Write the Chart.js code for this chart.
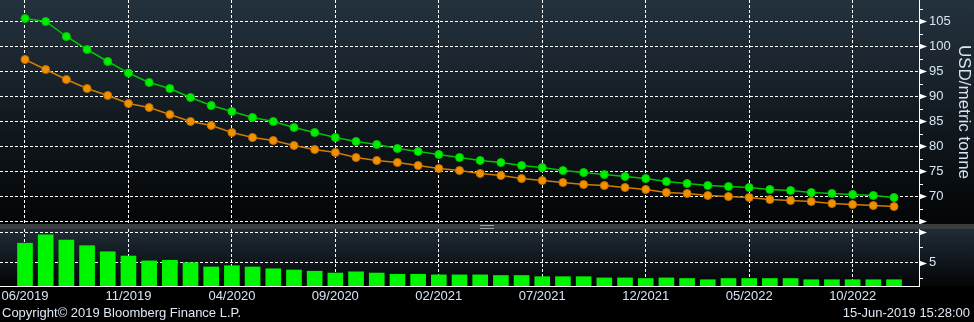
<!DOCTYPE html>
<html>
<head>
<meta charset="utf-8">
<script src="https://cdn.jsdelivr.net/npm/chart.js@4.4.0/dist/chart.umd.min.js"></script>
<style>
body { margin:0; background:#000; width:974px; height:322px; overflow:hidden; position:relative; font-family:"Liberation Sans", Arial, sans-serif; }
#top { position:absolute; left:0; top:0; }
#sep { position:absolute; left:0; top:224px; width:974px; height:5px; background:#3b3d3f; }
#grip { position:absolute; left:480px; top:225px; width:14px; height:4px; border-top:1px solid #a0a0a0; border-bottom:1px solid #a0a0a0; box-sizing:border-box; }
#bot { position:absolute; left:0; top:229px; }
.foot { position:absolute; top:305px; font-size:13px; color:#dde8f4; white-space:nowrap; }
</style>
</head>
<body>
<canvas id="top" width="974" height="224"></canvas>
<div id="sep"></div><div id="grip"></div>
<canvas id="bot" width="974" height="93"></canvas>
<div class="foot" style="left:2px">Copyright© 2019 Bloomberg Finance L.P.</div>
<div class="foot" style="right:4px">15-Jun-2019 15:28:00</div>
<script>
// monthly contracts, 06/2019 .. 12/2022
const months = ['06/2019','07/2019','08/2019','09/2019','10/2019','11/2019','12/2019',
  '01/2020','02/2020','03/2020','04/2020','05/2020','06/2020','07/2020','08/2020','09/2020','10/2020','11/2020','12/2020',
  '01/2021','02/2021','03/2021','04/2021','05/2021','06/2021','07/2021','08/2021','09/2021','10/2021','11/2021','12/2021',
  '01/2022','02/2022','03/2022','04/2022','05/2022','06/2022','07/2022','08/2022','09/2022','10/2022','11/2022','12/2022'];

// green curve
const curveNow = [105.5, 104.9, 101.9, 99.3, 96.9, 94.6, 92.7, 91.5, 89.7, 88.1, 86.9, 85.7, 84.9, 83.7, 82.7,
  81.7, 80.9, 80.3, 79.5, 78.9, 78.3, 77.7, 77.1, 76.7, 76.1, 75.7, 75.1, 74.7, 74.3, 73.9,
  73.5, 72.9, 72.5, 72.1, 71.9, 71.7, 71.3, 71.1, 70.7, 70.5, 70.3, 70.1, 69.7];

// orange curve
const curvePrev = [97.3, 95.3, 93.3, 91.5, 90.1, 88.5, 87.7, 86.3, 84.9, 84.1, 82.7, 81.7, 81.1, 80.1, 79.3,
  78.7, 77.7, 77.1, 76.7, 76.1, 75.5, 75.1, 74.5, 74.1, 73.5, 73.1, 72.7, 72.3, 72.1, 71.7,
  71.3, 70.7, 70.5, 70.1, 69.9, 69.7, 69.3, 69.1, 68.9, 68.5, 68.3, 68.1, 67.9];

// difference bars, lower panel
const spread = [8.2, 9.6, 8.7, 7.8, 6.8, 6.1, 5.3, 5.4, 5.0, 4.3, 4.5, 4.3, 4.0, 3.8, 3.6,
  3.3, 3.5, 3.3, 3.1, 3.1, 3.0, 3.0, 3.0, 2.9, 2.9, 2.7, 2.7, 2.7, 2.5, 2.5,
  2.4, 2.5, 2.4, 2.2, 2.4, 2.4, 2.4, 2.4, 2.2, 2.2, 2.2, 2.2, 2.2];

const xTickIdx = [0, 5, 10, 15, 20, 25, 30, 35, 40];
const priceTicks = [65, 70, 75, 80, 85, 90, 95, 100, 105];
const spreadTicks = [5, 10];
// edge ticks get the arrow but no number
const hiddenLabels = [65, 10];

const txt = '#d6e4f3';
const axisFont = { family: 'Liberation Sans', size: 13 };
const dash = [3, 2];
const xMin = -1.208, xMax = 43.208;

function pts(arr) { return arr.map((v, i) => ({ x: i, y: v })); }
function yLabel(v) { return hiddenLabels.includes(v) ? '' : v; }

// fixed sizes, no label padding eating into the plot
function fixSize(w, h) {
  return s => {
    if (w !== null) s.width = w;
    if (h !== null) s.height = h;
    s.paddingTop = 0; s.paddingBottom = 0; s.paddingLeft = 0; s.paddingRight = 0;
  };
}

// gradient panel + the little arrow/minor ticks on the right axis
const panelBg = {
  id: 'panelBg',
  beforeDraw(chart, args, opts) {
    const { ctx, chartArea } = chart;
    const g = ctx.createLinearGradient(0, chartArea.top, 0, chartArea.bottom);
    g.addColorStop(0, opts.top);
    g.addColorStop(1, opts.bottom);
    ctx.save();
    ctx.fillStyle = '#000';
    ctx.fillRect(0, 0, chart.width, chart.height);
    ctx.fillStyle = g;
    ctx.fillRect(0, chartArea.top, chart.width, chartArea.bottom - chartArea.top);
    ctx.restore();
  },
  afterDraw(chart, args, opts) {
    const y = chart.scales.y;
    const { ctx, chartArea } = chart;
    const x0 = chartArea.right;
    ctx.save();
    ctx.fillStyle = '#fff';
    ctx.strokeStyle = '#fff';
    ctx.lineWidth = 1;
    opts.ticks.forEach(v => {
      const py = Math.round(y.getPixelForValue(v)) + 0.5;
      ctx.beginPath();
      ctx.moveTo(x0, py - 3);
      ctx.lineTo(x0 + 8, py);
      ctx.lineTo(x0, py + 3);
      ctx.closePath();
      ctx.fill();
      [v - 2.5, v + 2.5].forEach(m => {
        const pm = Math.round(y.getPixelForValue(m)) + 0.5;
        if (pm < chartArea.top || pm > chartArea.bottom) return;
        ctx.beginPath();
        ctx.moveTo(x0, pm);
        ctx.lineTo(x0 + 4, pm);
        ctx.stroke();
      });
    });
    ctx.restore();
  }
};

const base = {
  responsive: false,
  animation: false,
  events: [],
  layout: { padding: 0, autoPadding: false }
};

new Chart(document.getElementById('top'), {
  type: 'line',
  data: {
    datasets: [{
      data: pts(curvePrev),
      borderColor: '#d27c00',
      borderWidth: 1.5,
      backgroundColor: '#f29100',
      pointBorderColor: '#c07000',
      pointBorderWidth: 1,
      pointRadius: 4
    }, {
      data: pts(curveNow),
      borderColor: '#00c400',
      borderWidth: 1.5,
      backgroundColor: '#00ee00',
      pointBorderColor: '#00c800',
      pointBorderWidth: 1,
      pointRadius: 4
    }]
  },
  options: Object.assign({}, base, {
    plugins: {
      legend: { display: false },
      tooltip: { enabled: false },
      panelBg: { top: '#24323e', bottom: '#030506', ticks: priceTicks }
    },
    scales: {
      x: {
        type: 'linear', min: xMin, max: xMax, offset: false,
        afterBuildTicks: s => { s.ticks = xTickIdx.map(v => ({ value: v })); },
        afterFit: fixSize(null, 0),
        ticks: { display: false },
        grid: { color: '#fff', lineWidth: 1, drawTicks: false, offset: false },
        border: { display: false, dash: dash }
      },
      y: {
        position: 'right', min: 64.4, max: 109.2,
        afterBuildTicks: s => { s.ticks = priceTicks.map(v => ({ value: v })); },
        afterFit: fixSize(55, null),
        ticks: { color: txt, font: axisFont, padding: 10, callback: yLabel },
        grid: { color: '#fff', lineWidth: 1, drawTicks: false },
        border: { display: true, color: '#fff', width: 1, dash: dash },
        title: { display: true, text: 'USD/metric tonne', color: txt, font: { family: 'Liberation Sans', size: 17 }, padding: 0 }
      }
    }
  }),
  plugins: [panelBg]
});

new Chart(document.getElementById('bot'), {
  type: 'bar',
  data: {
    datasets: [{
      data: pts(spread),
      backgroundColor: '#00f500',
      borderWidth: 0,
      barThickness: 15
    }]
  },
  options: Object.assign({}, base, {
    plugins: {
      legend: { display: false },
      tooltip: { enabled: false },
      panelBg: { top: '#202c37', bottom: '#030506', ticks: spreadTicks }
    },
    scales: {
      x: {
        type: 'linear', min: xMin, max: xMax, offset: false,
        afterBuildTicks: s => { s.ticks = xTickIdx.map(v => ({ value: v })); },
        afterFit: fixSize(null, 36),
        ticks: { color: txt, font: axisFont, padding: 3, maxRotation: 0, autoSkip: false, callback: v => months[v] },
        grid: { color: '#fff', lineWidth: 1, drawTicks: false, offset: false },
        border: { display: true, color: '#fff', width: 1, dash: dash }
      },
      y: {
        position: 'right', min: 1.17, max: 10.54,
        afterBuildTicks: s => { s.ticks = spreadTicks.map(v => ({ value: v })); },
        afterFit: fixSize(55, null),
        ticks: { color: txt, font: axisFont, padding: 10, callback: yLabel },
        grid: { color: '#fff', lineWidth: 1, drawTicks: false },
        border: { display: true, color: '#fff', width: 1, dash: dash }
      }
    }
  }),
  plugins: [panelBg]
});
</script>
</body>
</html>
